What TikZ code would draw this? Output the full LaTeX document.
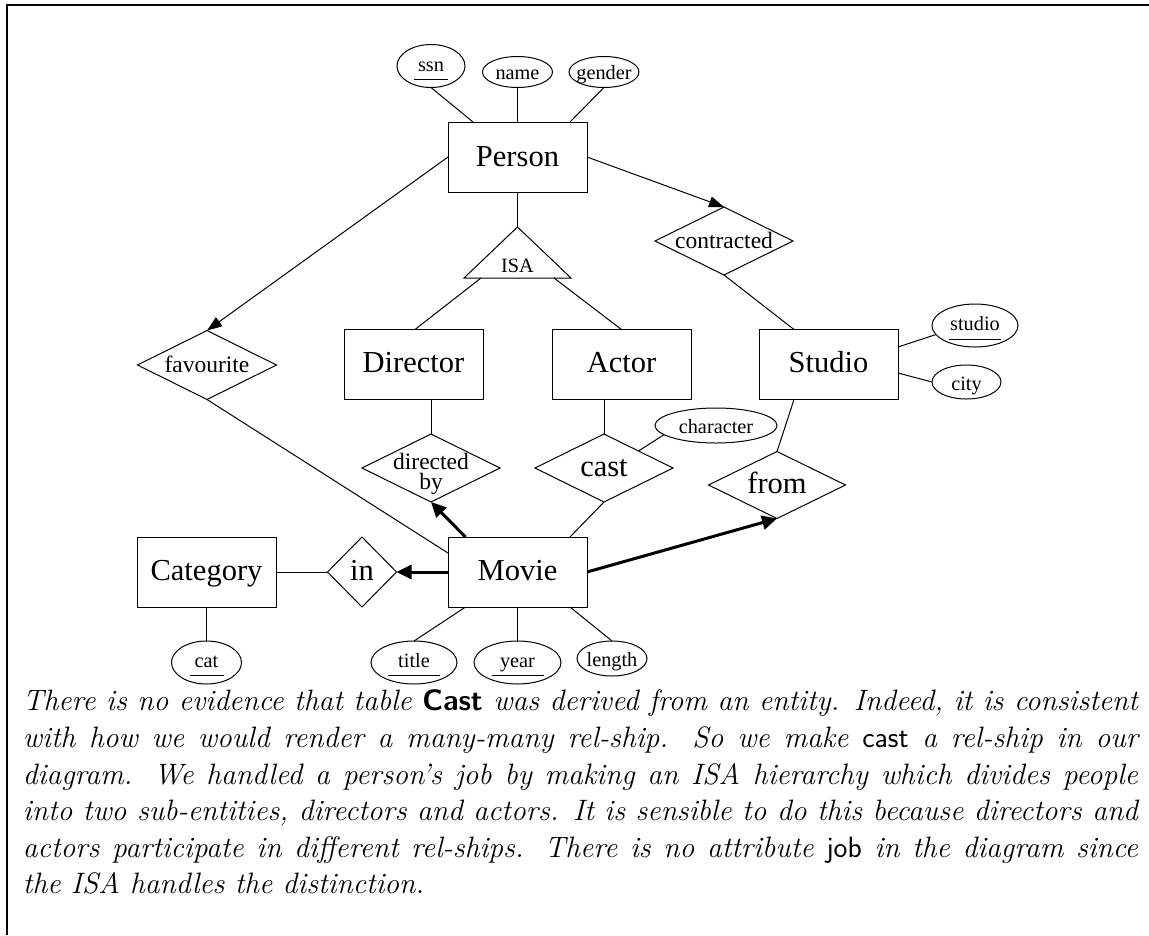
\documentclass[tikz,border=0pt]{standalone}
\usepackage{fontspec}
\newfontfamily\diag{Liberation Serif}
\usetikzlibrary{shapes.geometric,arrows.meta,calc}
\newcommand\zt[2][8pt]{\makebox[0pt]{\raisebox{-#1}[0pt][0pt]{#2}}}
\begin{document}
\begin{tikzpicture}[x=1pt,y=-1pt,
  every node/.style={inner sep=0pt, outer sep=0pt},
  bigtxt/.style={font=\diag\fontsize{30.5}{34}\selectfont},
  midtxt/.style={font=\diag\fontsize{23.5}{26}\selectfont},
  smalltxt/.style={font=\diag\fontsize{20.3}{23}\selectfont},
  ent/.style={draw, line width=1pt, minimum width=139pt, minimum height=70pt, bigtxt},
  rel/.style={draw, diamond, line width=1pt, minimum width=138pt, minimum height=68pt},
  attr/.style={draw, ellipse, line width=1pt, smalltxt},
  ln/.style={line width=1pt},
  ul/.style={line width=1pt},
  arr/.style={line width=1pt, -{Triangle[length=15pt,width=11pt]}},
  thickarr/.style={line width=3pt, -{Triangle[length=15pt,width=14pt]}},
  frame/.style={line width=2pt},
  body/.style={font=\fontsize{29.5}{36.6}\selectfont\itshape}
]
\useasboundingbox (0,0) rectangle (1149,935);
\draw[frame] (1149,5) -- (7,5) -- (7,935);

% entities
\node[ent] (person) at (517.5,157) {\zt[9pt]{Person}};
\node[ent] (director) at (413.5,364.5) {\zt{Director}};
\node[ent] (actor) at (621.5,364.5) {\zt{Actor}};
\node[ent] (studio) at (828.5,364.5) {\zt{Studio}};
\node[ent] (movie) at (517.5,572) {\zt{Movie}};
\node[ent] (category) at (206.5,572) {\zt{Category}};

% relationships
\node[rel, midtxt, minimum width=139pt, minimum height=69pt] (fav) at (207,365) {\zt[7.5pt]{favourite}};
\node[rel, midtxt] (contr) at (724,241) {\zt[7.5pt]{contracted}};
\node[rel, midtxt] (dirby) at (431,468) {\zt[21pt]{\vbox{\baselineskip=20pt\lineskiplimit=-20pt\halign{\hfil#\hfil\cr directed\cr by\cr}}}};
\node[rel, bigtxt] (cast) at (604,468) {\zt{cast}};
\node[rel, bigtxt, minimum width=137pt, minimum height=67pt] (from) at (777,485) {\zt{from}};
\node[rel, bigtxt, minimum width=69pt, minimum height=70pt] (in) at (362,572) {\zt{in}};

% ISA triangle
\coordinate (isatop) at (517.5,227);
\coordinate (isal) at (464,278);
\coordinate (isar) at (571,278);
\coordinate (isabl) at (481,278);
\coordinate (isabr) at (554,278);
\draw[ln] (isatop) -- (isar) -- (isal) -- cycle;
\node[smalltxt] (isa) at (517.5,265) {\zt[7pt]{ISA}};

% attributes
\node[attr, minimum width=68pt, minimum height=43pt] (ssn) at (431,66) {\zt[5pt]{ssn}};
\node[attr, minimum width=70pt, minimum height=31pt] (name) at (517.5,72) {\zt[7pt]{name}};
\node[attr, minimum width=70pt, minimum height=31pt] (gender) at (604,72) {\zt[7pt]{gender}};
\node[attr, minimum width=86pt, minimum height=43pt] (studioa) at (975,325.5) {\zt[4.5pt]{studio}};
\node[attr, minimum width=69pt, minimum height=34pt] (city) at (966.5,382) {\zt[8pt]{city}};
\node[attr, minimum width=122pt, minimum height=35pt] (character) at (716,425.5) {\zt[7.5pt]{character}};
\node[attr, minimum width=70pt, minimum height=43pt] (cat) at (206.5,662.5) {\zt[5pt]{cat}};
\node[attr, minimum width=86pt, minimum height=43pt] (title) at (414,662.5) {\zt[5pt]{title}};
\node[attr, minimum width=87pt, minimum height=43pt] (year) at (517.5,662.5) {\zt[5pt]{year}};
\node[attr, minimum width=70pt, minimum height=35pt] (length) at (612,658.5) {\zt[7.5pt]{length}};

% key underlines
\draw[ul] ($(ssn.center)+(-17,13)$) -- ++(34,0);
\draw[ul] ($(studioa.center)+(-26,13.5)$) -- ++(52,0);
\draw[ul] ($(cat.center)+(-17,13)$) -- ++(34,0);
\draw[ul] ($(title.center)+(-26,13)$) -- ++(52,0);
\draw[ul] ($(year.center)+(-26,13)$) -- ++(52,0);

% connectors
\draw[ln] (ssn.south) -- ([xshift=-44.5pt]person.north);
\draw[ln] (name.south) -- (person.north);
\draw[ln] (gender.south) -- ([xshift=52.5pt]person.north);
\draw[arr] (person.west) -- (fav.north);
\draw[arr] (person.east) -- (contr.north);
\draw[ln] (person.south) -- (isatop);
\draw[ln] (isabl) -- ([xshift=1.5pt]director.north);
\draw[ln] (isabr) -- (actor.north);
\draw[ln] (contr.south) -- ([xshift=-34.5pt]studio.north);
\draw[ln] ([xshift=-34.5pt]studio.south) -- (from.north);
\draw[ln] ($(studio.east)+(0,-17.5)$) -- (studioa.193);
\draw[ln] ($(studio.east)+(0,8.5)$) -- (city.west);
\draw[ln] (director.south -| dirby.north) -- (dirby.north);
\draw[ln] (actor.south -| cast.north) -- (cast.north);
\draw[ln] (cast.north east) -- (character.190);
\draw[ln] (category.south) -- (cat.north);
\draw[ln] (title.north) -- ([xshift=-52pt]movie.south);
\draw[ln] (year.north) -- (movie.south);
\draw[ln] (length.north) -- ([xshift=52.5pt]movie.south);
\draw[ln] (category.east) -- (in.west);
\draw[thickarr] (movie.west) -- (in.east);
\draw[ln] (fav.south) -- ($(movie.north west)+(0,16)$);
\draw[ln] (cast.south) -- ([xshift=52.5pt]movie.north);
\draw[thickarr] ([xshift=-52pt]movie.north) -- (dirby.south);
\draw[thickarr] (movie.east) -- (from.south);

% caption text
\node[body, anchor=north west, text width=1115pt, align=justify] (txt) at (23,690)
{\hyphenpenalty=10000 \exhyphenpenalty=10000 \tolerance=10000
There is no evidence that table {\upshape\sffamily\bfseries Cast} was derived from an entity. Indeed, it is consistent\linebreak
with how we would render a many-many rel-ship. So we make {\upshape\sffamily cast} a rel-ship in our\linebreak
diagram. We handled a person's job by making an ISA hierarchy which divides people\linebreak
into two sub-entities, directors and actors. It is sensible to do this because directors and\linebreak
actors participate in different rel-ships. There is no attribute {\upshape\sffamily job} in the diagram since\linebreak
the ISA handles the distinction.};
\end{tikzpicture}
\end{document}
